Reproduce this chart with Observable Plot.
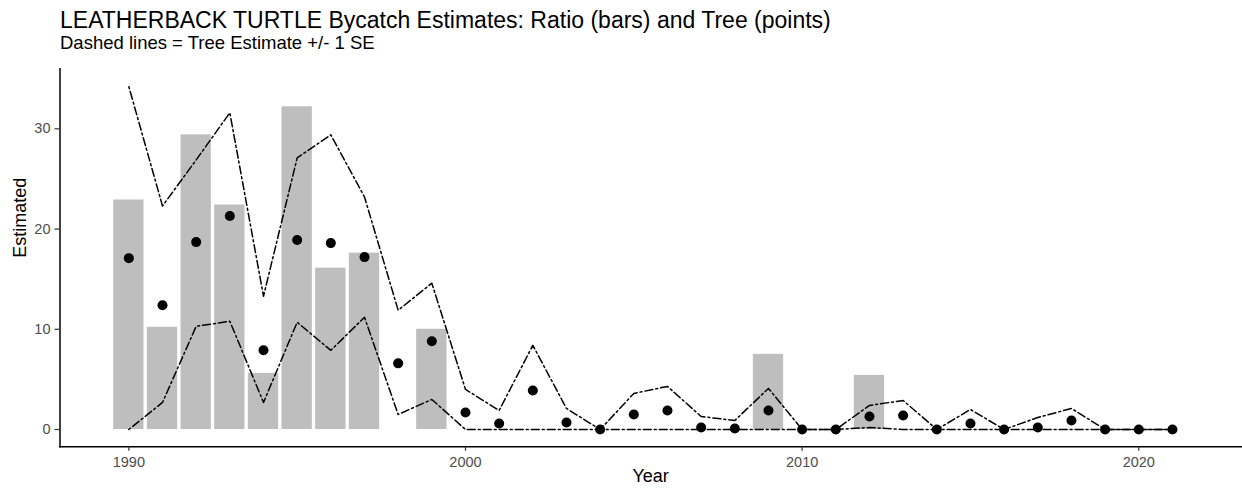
<!DOCTYPE html>
<html>
<head>
<meta charset="utf-8">
<script src="https://cdn.jsdelivr.net/npm/d3@7"></script>
<script src="https://cdn.jsdelivr.net/npm/@observablehq/plot@0.6"></script>
<style>
  body { margin: 0; background: #fff; font-family: "Liberation Sans", Arial, sans-serif; }
  #wrap { width: 1242px; height: 490px; position: relative; overflow: hidden; }
  #head { position: relative; height: 56px; }
  #title { position: absolute; left: 60px; top: 8.5px; font-size: 23px; line-height: 23px; color: #000; white-space: nowrap; }
  #subtitle { position: absolute; left: 60px; top: 34.3px; font-size: 18.5px; line-height: 18.5px; color: #000; white-space: nowrap; }
  #chart svg { display: block; }
</style>
</head>
<body>
<div id="wrap">
  <div id="head">
    <div id="title">LEATHERBACK TURTLE Bycatch Estimates: Ratio (bars) and Tree (points)</div>
    <div id="subtitle">Dashed lines = Tree Estimate +/- 1 SE</div>
  </div>
  <div id="chart"></div>
</div>
<script>
const years = [1990,1991,1992,1993,1994,1995,1996,1997,1998,1999,2000,2001,2002,2003,2004,2005,2006,2007,2008,2009,2010,2011,2012,2013,2014,2015,2016,2017,2018,2019,2020,2021];
const ratioEst = [22.9,10.2,29.4,22.4,5.6,32.2,16.1,17.6,0,10.0,0,0,0,0,0,0,0,0,0,7.5,0,0,5.4,0,0,0,0,0,0,0,0,0];
const treeEst  = [17.1,12.4,18.7,21.3,7.9,18.9,18.6,17.2,6.6,8.8,1.7,0.6,3.9,0.7,0,1.5,1.9,0.2,0.1,1.9,0,0,1.3,1.4,0,0.6,0,0.2,0.9,0,0,0];
const treeUpper = [34.2,22.3,26.9,31.6,13.3,27.1,29.4,23.2,11.9,14.6,4.0,1.9,8.4,2.1,0,3.6,4.3,1.3,0.9,4.1,0,0,2.4,2.9,0,2.0,0,1.2,2.1,0,0,0];
const treeLower = [0,2.7,10.3,10.8,2.7,10.7,7.9,11.2,1.5,3.0,0,0,0,0,0,0,0,0,0,0,0,0,0.2,0,0,0,0,0,0,0,0,0];
const xTicks = [1990,2000,2010,2020];
const yTicks = [0,10,20,30];
const xLabel = "Year";
const yLabel = "Estimated";

const data = years.map((y, i) => ({year: y, ratio: ratioEst[i], tree: treeEst[i], upper: treeUpper[i], lower: treeLower[i]}));

const barHalf = 0.45;
const dotdash = "2,3,8,3";
const labelColor = "#4d4d4d";

const chart = Plot.plot({
  width: 1242,
  height: 434,
  marginTop: 12.2,
  marginBottom: 43.8,
  marginLeft: 59.5,
  marginRight: 1.2,
  style: {fontFamily: "'Liberation Sans', Arial, sans-serif", background: "#fff"},
  x: {type: "linear", domain: [1987.955, 2023.045]},
  y: {domain: [-1.715, 36.0]},
  marks: [
    Plot.rectY(data, {x1: d => d.year - barHalf, x2: d => d.year + barHalf, y: "ratio", fill: "#bebebe"}),
    Plot.line(data, {x: "year", y: "upper", stroke: "#000", strokeWidth: 1.5, strokeDasharray: dotdash}),
    Plot.line(data, {x: "year", y: "lower", stroke: "#000", strokeWidth: 1.5, strokeDasharray: dotdash}),
    Plot.dot(data, {x: "year", y: "tree", r: 5, fill: "#000", stroke: "none"}),
    Plot.frame({anchor: "left", stroke: "#000", strokeWidth: 1.5}),
    Plot.frame({anchor: "bottom", stroke: "#000", strokeWidth: 1.5}),
    Plot.axisX({ticks: xTicks, tickFormat: d => String(d), tickSize: 4.5, tickPadding: 6, fontSize: 14.5, fill: labelColor, stroke: "#333", strokeWidth: 1.2, label: null}),
    Plot.axisY({ticks: yTicks, tickFormat: d => String(d), tickSize: 5, tickPadding: 4.5, fontSize: 14.5, fill: labelColor, stroke: "#333", strokeWidth: 1.2, label: null}),
    Plot.text([xLabel], {text: d => d, frameAnchor: "bottom", dy: 34.8, lineAnchor: "bottom", fontSize: 18, fill: "#000"}),
    Plot.text([yLabel], {text: d => d, frameAnchor: "left", dx: -47, rotate: -90, lineAnchor: "top", fontSize: 18, fill: "#000"})
  ]
});
document.getElementById("chart").appendChild(chart);
</script>
</body>
</html>
